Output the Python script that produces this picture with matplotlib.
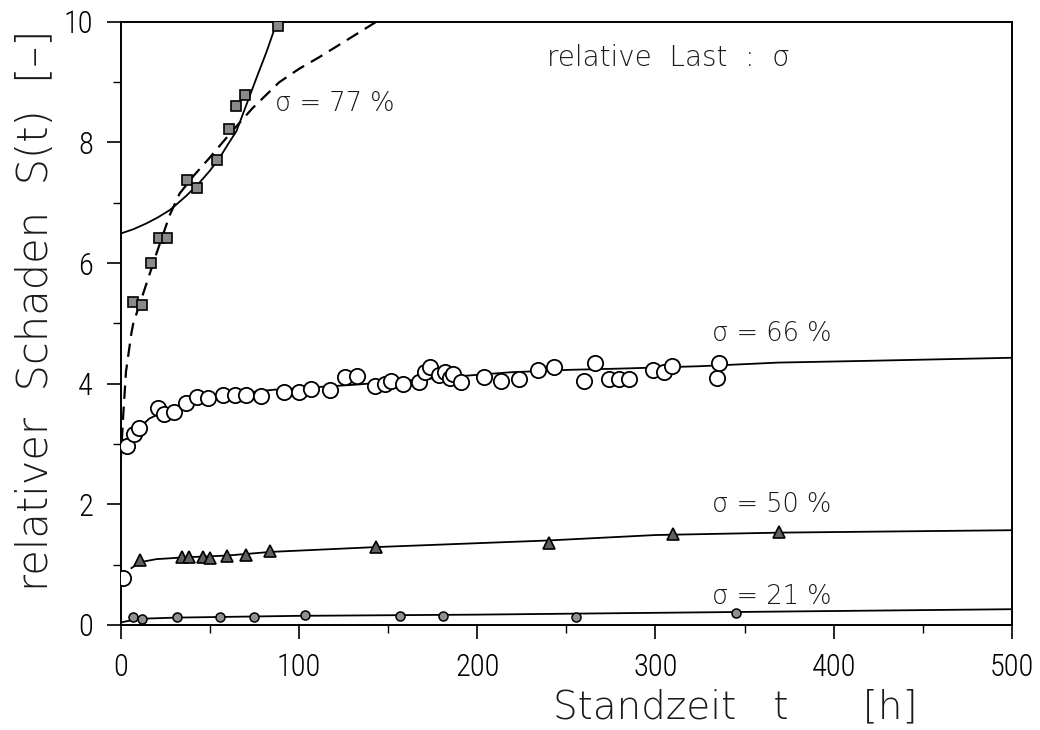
import matplotlib
matplotlib.use("Agg")
import matplotlib.pyplot as plt
from matplotlib.ticker import MultipleLocator

TICK_FONT = ['Roboto Condensed', 'Roboto', 'DejaVu Sans']
TEXT_FONT = ['DejaVu Sans']
plt.rcParams['font.family'] = TICK_FONT
plt.rcParams['font.weight'] = 'light'

# ---- data ----
# sigma = 77 %
t77 = [7.1, 11.8, 16.8, 21.5, 26.2, 37.0, 42.6, 54.1, 60.9, 64.6, 69.6, 88.0]
s77 = [5.35, 5.30, 6.00, 6.42, 6.42, 7.37, 7.24, 7.71, 8.22, 8.61, 8.79, 9.93]
fit77_dash_t = [0, 1.5, 3, 6.1, 7.1, 12.7, 20.1, 27.6, 33, 41, 50, 62, 74, 89, 100, 111.7, 127, 143.3]
fit77_dash_s = [2.7, 3.5, 4.2, 4.85, 5.0, 5.5, 6.16, 6.8, 7.15, 7.45, 7.75, 8.17, 8.57, 9.0,
                9.22, 9.42, 9.7, 10.0]
fit77_solid_t = [0, 7, 14.6, 21, 27.6, 32, 37, 44.4, 50, 55.6, 60, 65, 70.6, 76.2, 81.8, 86.4, 87.6]
fit77_solid_s = [6.49, 6.56, 6.66, 6.76, 6.88, 6.99, 7.12, 7.34, 7.53, 7.75, 7.96, 8.19, 8.63,
                 9.07, 9.5, 9.89, 10.0]

# sigma = 66 %
t66 = [3.4, 7.6, 10.3, 21.1, 24.4, 29.9, 36.6, 43.1, 49.1, 57.5, 64.4, 70.2, 78.8,
       91.7, 100.0, 107.0, 117.3, 125.7, 132.6, 142.9, 148.1, 151.4, 158.3, 167.1,
       170.5, 173.3, 178.5, 181.7, 184.5, 186.7, 191.0, 204.1, 213.4, 223.7, 234.0,
       243.3, 260.1, 266.3, 274.1, 279.7, 285.3, 298.4, 304.9, 309.2, 334.8, 335.7]
s66 = [2.97, 3.17, 3.27, 3.60, 3.49, 3.53, 3.68, 3.78, 3.77, 3.82, 3.82, 3.82, 3.80,
       3.86, 3.86, 3.91, 3.89, 4.11, 4.13, 3.96, 4.00, 4.05, 4.00, 4.03,
       4.20, 4.27, 4.14, 4.20, 4.09, 4.16, 4.02, 4.11, 4.05, 4.07, 4.23,
       4.27, 4.05, 4.34, 4.08, 4.08, 4.08, 4.22, 4.19, 4.30, 4.09, 4.35]
fit66_t = [0, 5, 10, 16, 25, 40, 60, 86, 130, 160, 197, 219, 252, 280, 325, 369, 421, 500]
fit66_s = [2.85, 3.1, 3.25, 3.42, 3.55, 3.72, 3.82, 3.9, 3.98, 4.05, 4.14, 4.19, 4.23,
           4.25, 4.29, 4.35, 4.38, 4.43]

# sigma = 50 %
t50_start, s50_start = [1.5], [0.78]
t50 = [10.8, 34.5, 38.5, 46.3, 50.0, 59.4, 70.6, 83.6, 143.4, 240.5, 309.6, 369.4]
s50 = [1.07, 1.12, 1.12, 1.13, 1.11, 1.14, 1.16, 1.22, 1.29, 1.35, 1.51, 1.54]
fit50_t = [0, 5, 11, 20, 36, 60, 84, 143, 240, 300, 370, 500]
fit50_s = [0.76, 0.92, 1.04, 1.09, 1.12, 1.15, 1.21, 1.29, 1.40, 1.49, 1.53, 1.57]

# sigma = 21 %
t21 = [7.0, 12.0, 31.4, 55.6, 74.7, 103.2, 156.5, 180.7, 255.5, 345.0]
s21 = [0.13, 0.10, 0.13, 0.13, 0.13, 0.17, 0.15, 0.15, 0.13, 0.20]
fit21_t = [0, 10, 30, 100, 200, 300, 500]
fit21_s = [0.04, 0.10, 0.12, 0.15, 0.17, 0.20, 0.26]

xticks = [0, 100, 200, 300, 400, 500]
yticks = [0, 2, 4, 6, 8, 10]

# ---- figure ----
fig = plt.figure(figsize=(10.4, 7.3), dpi=100)
ax = fig.add_axes([0.116, 0.144, 0.857, 0.826])

lw = 1.3
# 77 %
ax.plot(fit77_dash_t, fit77_dash_s, color='black', lw=1.6, ls=(0, (6, 3.5)), zorder=2)
ax.plot(fit77_solid_t, fit77_solid_s, color='black', lw=lw, zorder=2)
ax.plot(t77, s77, ls='none', marker='s', ms=7, mfc='#8a8a8a', mec='black', mew=1.2, zorder=3)

# 66 %
ax.plot(fit66_t, fit66_s, color='black', lw=lw, zorder=2)
ax.plot(t66, s66, ls='none', marker='o', ms=11, mfc='white', mec='black', mew=1.3, zorder=3)

# 50 %
ax.plot(fit50_t[:3], fit50_s[:3], color='black', lw=lw, ls=(0, (5, 3)), zorder=2)
ax.plot(fit50_t[2:], fit50_s[2:], color='black', lw=lw, zorder=2)
ax.plot(t50_start, s50_start, ls='none', marker='o', ms=11, mfc='white', mec='black', mew=1.3, zorder=3)
ax.plot(t50, s50, ls='none', marker='^', ms=9, mfc='#606060', mec='black', mew=1.2, zorder=3)

# 21 %
ax.plot(fit21_t, fit21_s, color='black', lw=lw, zorder=2)
ax.plot(t21, s21, ls='none', marker='o', ms=6.5, mfc='#909090', mec='black', mew=1.1, zorder=3)

ax.set_xlim(0, 500)
ax.set_ylim(0, 10)
ax.set_xticks(xticks)
ax.set_yticks(yticks)
ax.xaxis.set_minor_locator(MultipleLocator(50))
ax.yaxis.set_minor_locator(MultipleLocator(1))
ax.tick_params(which='major', direction='out', length=10, width=1.2, labelsize=22, pad=10)
ax.tick_params(which='minor', direction='out', length=6, width=1.0)
for lab in ax.get_xticklabels() + ax.get_yticklabels():
    lab.set_fontweight('light')
for sp in ax.spines.values():
    sp.set_linewidth(1.4)

txt_kw = dict(fontsize=18.5, color='#1a1a1a', fontweight='light', family=TEXT_FONT)
ax.text(239, 9.40, 'relative  Last  :  σ', va='center', ha='left',
        **{**txt_kw, 'fontsize': 20})
ax.text(86.5, 8.64, 'σ = 77 %', va='center', ha='left', **txt_kw)
ax.text(332, 4.84, 'σ = 66 %', va='center', ha='left', **txt_kw)
ax.text(332, 2.0, 'σ = 50 %', va='center', ha='left', **txt_kw)
ax.text(332, 0.47, 'σ = 21 %', va='center', ha='left', **txt_kw)

fig.text(0.034, 0.575, 'relativer  Schaden  S(t)  [–]', rotation=90, ha='center',
         va='center', fontsize=30, color='#1a1a1a', fontweight='light', family=TEXT_FONT)
fig.text(0.532, 0.0164, 'Standzeit   t      [h]', ha='left', va='baseline',
         fontsize=28, color='#1a1a1a', fontweight='light', family=TEXT_FONT)

fig.savefig('out.png', dpi=100)
